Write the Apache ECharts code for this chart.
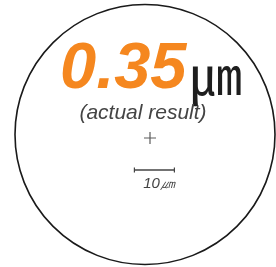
<!DOCTYPE html>
<html>
<head>
<meta charset="utf-8">
<script src="https://cdn.jsdelivr.net/npm/echarts@6/dist/echarts.min.js"></script>
<style>
  html, body { margin: 0; padding: 0; background: #fff; }
  #main { width: 276px; height: 267px; }
</style>
</head>
<body>
<div id="main"></div>
<script>
// values
const resultValue = ['0.35']
const resultUnit = ['㎛']
const caption = ['(actual result)']
const centerMark = [[0, 0]]            // µm, the + marker
const scaleBar = [[-3.9, -8], [6.1, -8]] // µm, a 10 µm bar
const scaleLabel = ['10㎛']

// the view is 4 px per µm, origin on the + marker
const myChart = echarts.init(document.getElementById('main'))
myChart.setOption({
  animation: false,
  grid: { left: 0, right: 0, top: 0, bottom: 0 },
  xAxis: { type: 'value', min: -37.5, max: 31.5, show: false },
  yAxis: { type: 'value', min: -32.25, max: 34.5, show: false },
  graphic: [
    {
      type: 'circle',
      shape: { cx: 145, cy: 134.5, r: 130 },
      style: { fill: 'none', stroke: '#1a1a1a', lineWidth: 1.6 },
      z: 1
    },
    {
      type: 'text',
      x: 60,
      y: 70,
      style: {
        text: resultValue[0],
        fontFamily: 'Liberation Sans',
        fontWeight: 'bold',
        fontStyle: 'italic',
        fontSize: 65,
        fill: '#f5871f',
        textVerticalAlign: 'middle'
      }
    },
    {
      type: 'text',
      x: 190,
      y: 75,
      style: {
        text: resultUnit[0],
        fontFamily: 'Noto Sans CJK JP',
        fontSize: 52,
        fill: '#1e1e1e',
        textVerticalAlign: 'middle'
      }
    },
    {
      type: 'text',
      x: 143,
      y: 113,
      style: {
        text: caption[0],
        fontFamily: 'Liberation Sans',
        fontStyle: 'italic',
        fontSize: 21,
        fill: '#444',
        textAlign: 'center',
        textVerticalAlign: 'middle'
      }
    },
    {
      type: 'text',
      x: 159,
      y: 184,
      style: {
        text: scaleLabel[0],
        fontFamily: 'Liberation Sans',
        fontStyle: 'italic',
        fontSize: 15,
        fill: '#444',
        textAlign: 'center',
        textVerticalAlign: 'middle'
      }
    }
  ],
  series: [
    {
      type: 'scatter',
      data: centerMark,
      symbol: 'path://M4.5,0H5.5V4.5H10V5.5H5.5V10H4.5V5.5H0V4.5H4.5Z',
      symbolSize: 12,
      itemStyle: { color: '#333' }
    },
    {
      type: 'line',
      data: scaleBar,
      symbol: 'path://M0,0H1V10H0Z',
      symbolSize: [1.2, 5],
      lineStyle: { color: '#444', width: 1.4 },
      itemStyle: { color: '#444' }
    }
  ]
})
</script>
</body>
</html>
